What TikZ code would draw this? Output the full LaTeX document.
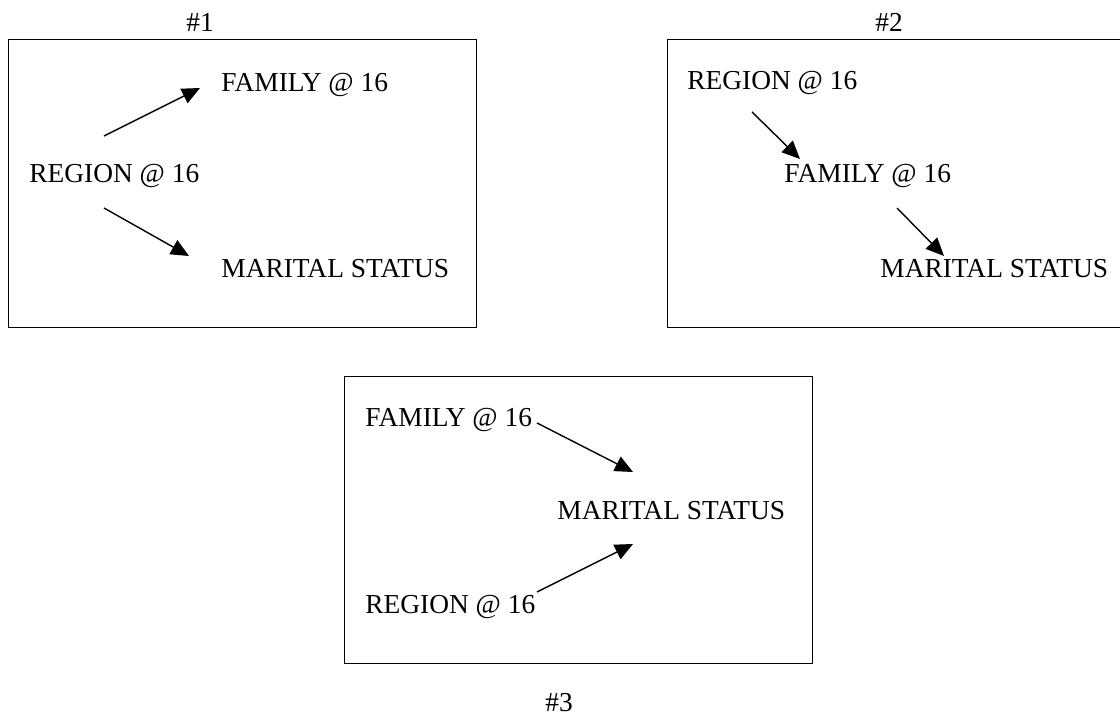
\documentclass[tikz,border=0pt]{standalone}
\usepackage{fontspec}
\setmainfont{Liberation Serif}
\usetikzlibrary{arrows.meta}
\usetikzlibrary{positioning}

\begin{document}
\begin{tikzpicture}[x=0.5pt,y=-0.5pt,
  lbl/.style={anchor=base west,inner sep=0pt,font=\fontsize{13.7}{16}\selectfont},
  num/.style={anchor=base,inner sep=0pt,font=\fontsize{13.7}{16}\selectfont},
  arr/.style={line width=0.7pt,-{Triangle[length=9pt,width=8pt]}}]
  \useasboundingbox (0,0) rectangle (1120,715);

  %first model
  \draw[line width=0.5pt] (8,40) rectangle (476,328);
  \node[num] (lab1) at (200,32) {\#1};
  \node[lbl] (reg1) at (29,183) {REGION @ 16};
  \node[lbl] (fam1) at (221,92) {FAMILY @ 16};
  \node[lbl] (mar1) at (221,278) {MARITAL STATUS};
  \draw[arr] ([shift={(75,-47)}]reg1.base west) -- ([shift={(-21,-4)}]fam1.base west);
  \draw[arr] ([shift={(75,25)}]reg1.base west) -- ([shift={(-32,-22)}]mar1.base west);

  %second model, box runs off the right side
  \draw[line width=0.5pt] (1124,40) -| (667,328) -- (1124,328);
  \node[num] (lab2) at (889,32) {\#2};
  \node[lbl] (reg2) at (687,90) {REGION @ 16};
  \node[lbl] (fam2) at (784,183) {FAMILY @ 16};
  \node[lbl] (mar2) at (880,278) {MARITAL STATUS};
  \draw[arr] ([shift={(65,22)}]reg2.base west) -- ([shift={(16,-24)}]fam2.base west);
  \draw[arr] ([shift={(113,25)}]fam2.base west) -- ([shift={(64,-22)}]mar2.base west);

  %third model
  \draw[line width=0.5pt] (344,377) rectangle (812,664);
  \node[num] (lab3) at (559,712) {\#3};
  \node[lbl] (fam3) at (365,427) {FAMILY @ 16};
  \node[lbl] (reg3) at (365,614) {REGION @ 16};
  \node[lbl] (mar3) at (557,520) {MARITAL STATUS};
  \draw[arr] ([shift={(172,-4)}]fam3.base west) -- ([shift={(76,-48)}]mar3.base west);
  \draw[arr] ([shift={(172,-22)}]reg3.base west) -- ([shift={(76,24)}]mar3.base west);
\end{tikzpicture}
\end{document}
